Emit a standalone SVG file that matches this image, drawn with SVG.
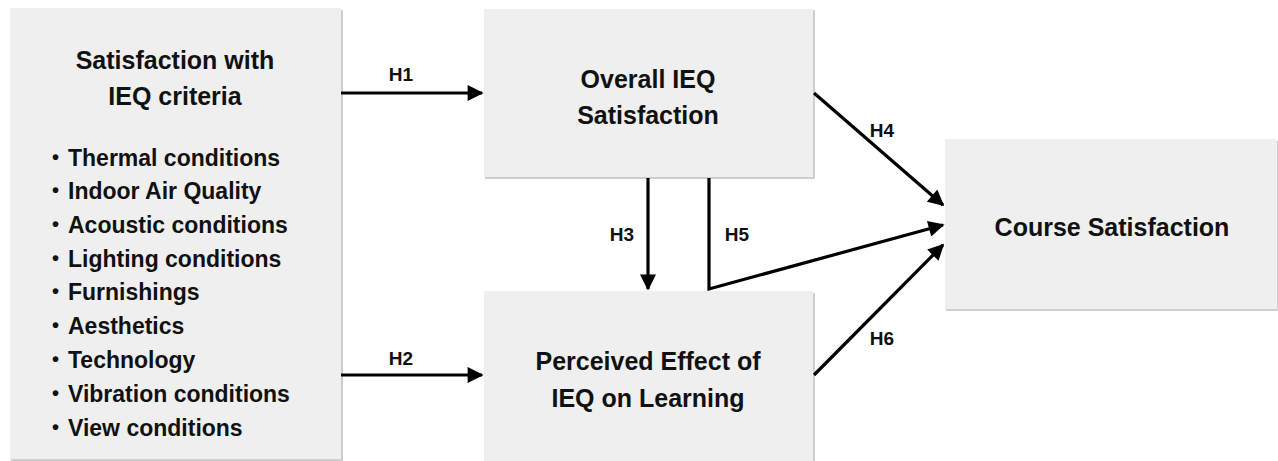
<svg xmlns="http://www.w3.org/2000/svg" width="1278" height="461" viewBox="0 0 1278 461">
<style>
.box{fill:#efefef}
.sh{fill:#cfcfcf}
.t{font-family:"Liberation Sans",Arial,sans-serif;font-weight:bold;font-size:25px;fill:#111}
.b{font-family:"Liberation Sans",Arial,sans-serif;font-weight:bold;font-size:23px;fill:#111}
.d{font-family:"Liberation Sans",Arial,sans-serif;font-weight:bold;font-size:20px;fill:#111}
.c{text-anchor:middle}
.lbl{font-family:"Liberation Sans",Arial,sans-serif;font-weight:bold;font-size:19px;fill:#111;text-anchor:middle}
.ln{stroke:#000;stroke-width:3.2;fill:none}
</style>
<defs>
<marker id="ah" viewBox="0 0 10 10" refX="9" refY="5" markerWidth="5.5" markerHeight="5" markerUnits="strokeWidth" orient="auto">
<path d="M0,0 L10,5 L0,10 z" fill="#000"/>
</marker>
</defs>
<g id="node-criteria">
<rect class="sh" x="11" y="10" width="332" height="451"/>
<rect class="box" x="10" y="8" width="331" height="451"/>
<text class="t c" x="175" y="69">Satisfaction with</text>
<text class="t c" x="175" y="105">IEQ criteria</text>
<g class="d">
<text x="52" y="164">•</text>
<text x="52" y="197">•</text>
<text x="52" y="231">•</text>
<text x="52" y="265">•</text>
<text x="52" y="298">•</text>
<text x="52" y="332">•</text>
<text x="52" y="366">•</text>
<text x="52" y="400">•</text>
<text x="52" y="434">•</text>
</g>
<g class="b">
<text x="68" y="166">Thermal conditions</text>
<text x="68" y="199">Indoor Air Quality</text>
<text x="68" y="233">Acoustic conditions</text>
<text x="68" y="267">Lighting conditions</text>
<text x="68" y="300">Furnishings</text>
<text x="68" y="334">Aesthetics</text>
<text x="68" y="368">Technology</text>
<text x="68" y="402">Vibration conditions</text>
<text x="68" y="436">View conditions</text>
</g>
</g>
<g id="node-overall">
<rect class="sh" x="485" y="10" width="330" height="169"/>
<rect class="box" x="484" y="9" width="329" height="168"/>
<text class="t c" x="648" y="88">Overall IEQ</text>
<text class="t c" x="648" y="124">Satisfaction</text>
</g>
<g id="node-perceived">
<rect class="sh" x="485" y="293" width="330" height="170"/>
<rect class="box" x="484" y="291" width="329" height="170"/>
<text class="t c" x="648" y="370">Perceived Effect of</text>
<text class="t c" x="648" y="407">IEQ on Learning</text>
</g>
<g id="node-course">
<rect class="sh" x="946" y="141" width="332" height="170"/>
<rect class="box" x="945" y="139" width="332" height="170"/>
<text class="t c" x="1112" y="236">Course Satisfaction</text>
</g>
<g id="connectors">
<line class="ln" x1="341" y1="93" x2="482" y2="93" marker-end="url(#ah)"/>
<line class="ln" x1="341" y1="375" x2="482" y2="375" marker-end="url(#ah)"/>
<line class="ln" x1="648" y1="178" x2="648" y2="289" marker-end="url(#ah)"/>
<polyline class="ln" points="709,178 709,289 943,225" marker-end="url(#ah)"/>
<line class="ln" x1="814" y1="93" x2="943" y2="205" marker-end="url(#ah)"/>
<line class="ln" x1="814" y1="375" x2="943" y2="245" marker-end="url(#ah)"/>
<text class="lbl" x="401" y="81">H1</text>
<text class="lbl" x="401" y="365">H2</text>
<text class="lbl" x="622" y="241">H3</text>
<text class="lbl" x="737" y="241">H5</text>
<text class="lbl" x="882" y="137">H4</text>
<text class="lbl" x="882" y="345">H6</text>
</g>
</svg>
